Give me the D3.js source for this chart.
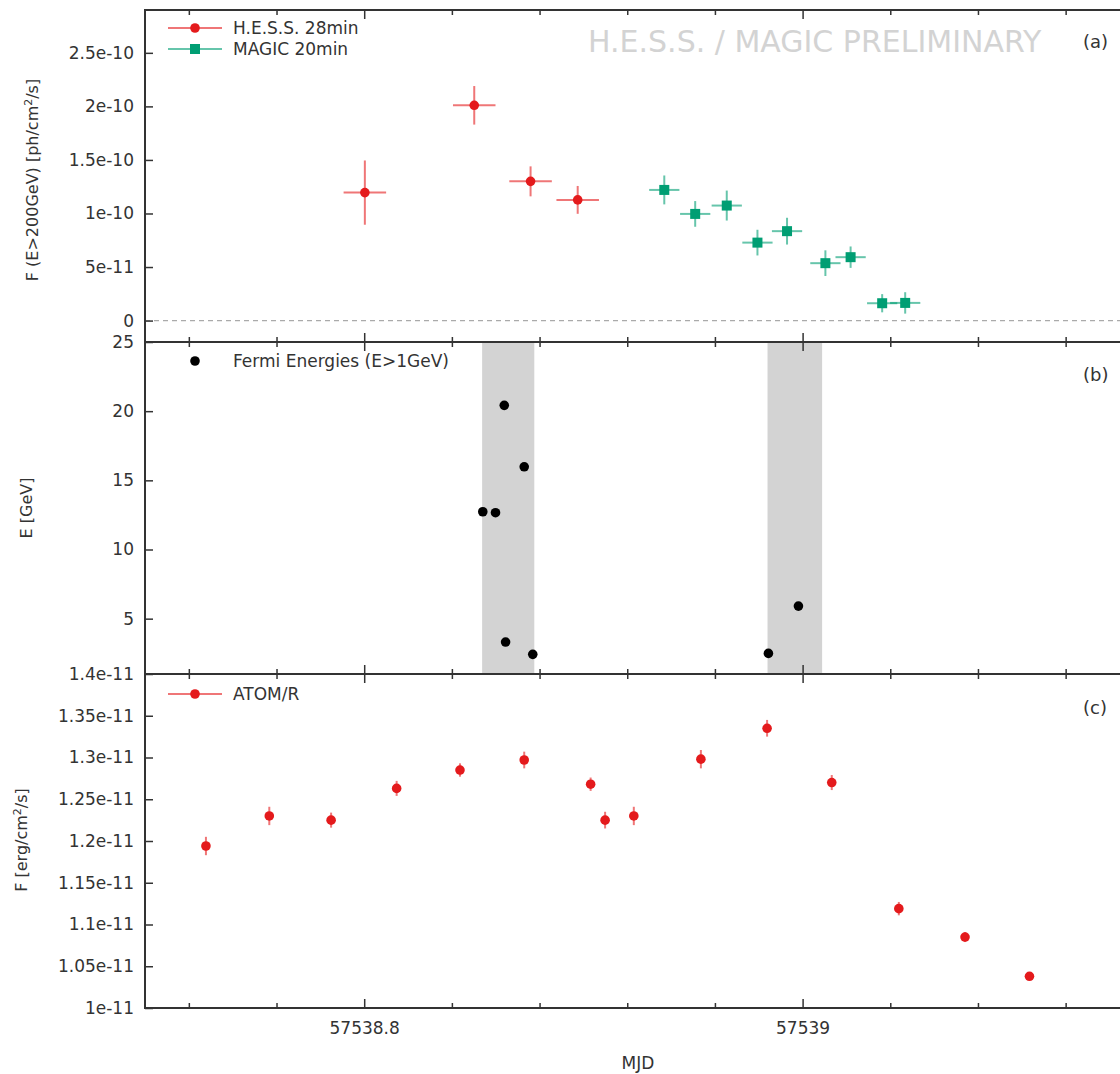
<!DOCTYPE html>
<html>
<head>
<meta charset="utf-8">
<script src="https://cdn.jsdelivr.net/npm/d3@7"></script>
<style>
  body { margin: 0; background: #fff; }
  text { font-family: "DejaVu Sans", sans-serif; fill: #333; }
</style>
</head>
<body>
<div id="chart"></div>
<script>
// H.E.S.S. 28 min bins
var hessMjd  = [57538.8003, 57538.8502, 57538.8759, 57538.8974];
var hessFlux = [1.195e-10, 2.01e-10, 1.30e-10, 1.127e-10];
var hessErr  = [0.30e-10, 0.18e-10, 0.14e-10, 0.13e-10];
var hessHalf = 0.0097;

// MAGIC 20 min bins
var magicMjd  = [57538.9369, 57538.9510, 57538.9654, 57538.9794, 57538.9929, 57539.0104, 57539.0219, 57539.0363, 57539.0468];
var magicFlux = [1.220e-10, 0.996e-10, 1.074e-10, 0.728e-10, 0.835e-10, 0.536e-10, 0.592e-10, 0.162e-10, 0.165e-10];
var magicErr  = [0.135e-10, 0.12e-10, 0.14e-10, 0.12e-10, 0.125e-10, 0.12e-10, 0.10e-10, 0.085e-10, 0.10e-10];
var magicHalf = 0.0069;

// Fermi photon energies
var fermiMjd    = [57538.8541, 57538.8599, 57538.8639, 57538.8730, 57538.8645, 57538.8769, 57538.9844, 57538.9981];
var fermiEnergy = [12.73, 12.66, 20.42, 15.98, 3.31, 2.42, 2.49, 5.91];
var fermiBands  = [[57538.8538, 57538.8776], [57538.9840, 57539.0089]];

// ATOM R band
var atomMjd  = [57538.7278, 57538.7567, 57538.7849, 57538.8148, 57538.8437, 57538.8730, 57538.9033, 57538.9099,
                57538.9230, 57538.9536, 57538.9838, 57539.0133, 57539.0439, 57539.0741, 57539.1035];
var atomFlux = [1.194e-11, 1.230e-11, 1.225e-11, 1.263e-11, 1.285e-11, 1.297e-11, 1.268e-11, 1.225e-11,
                1.230e-11, 1.298e-11, 1.335e-11, 1.270e-11, 1.119e-11, 1.085e-11, 1.038e-11];
var atomErr  = [0.011e-11, 0.011e-11, 0.009e-11, 0.009e-11, 0.008e-11, 0.010e-11, 0.008e-11, 0.010e-11,
                0.011e-11, 0.011e-11, 0.010e-11, 0.009e-11, 0.008e-11, 0.006e-11, 0.004e-11];

// ticks
var xMajor = [57538.8, 57539, 57539.2];
var xMajorLabels = ["57538.8", "57539", ""];
var xMinor = [57538.72, 57538.76, 57538.84, 57538.88, 57538.92, 57538.96, 57539.04, 57539.08, 57539.12, 57539.16];
var yTicksA = [0, 5e-11, 1e-10, 1.5e-10, 2e-10, 2.5e-10];
var yLabelsA = ["0", "5e-11", "1e-10", "1.5e-10", "2e-10", "2.5e-10"];
var yTicksB = [5, 10, 15, 20, 25];
var yLabelsB = ["5", "10", "15", "20", "25"];
var yTicksC = [1e-11, 1.05e-11, 1.1e-11, 1.15e-11, 1.2e-11, 1.25e-11, 1.3e-11, 1.35e-11, 1.4e-11];
var yLabelsC = ["1e-11", "1.05e-11", "1.1e-11", "1.15e-11", "1.2e-11", "1.25e-11", "1.3e-11", "1.35e-11", "1.4e-11"];

var width = 1120, height = 1074;
var left = 145, right = 1241;
var red = "#e41a1c", green = "#009e73", axisCol = "#333";

var svg = d3.select("#chart").append("svg")
    .attr("width", width)
    .attr("height", height);

var xScale = d3.scaleLinear().domain([57538.7, 57539.2]).range([left, right]);

var yA = d3.scaleLinear().domain([-2e-11, 2.9e-10]).range([342, 10]);
var yB = d3.scaleLinear().domain([1, 25]).range([674, 342]);
var yC = d3.scaleLinear().domain([1e-11, 1.4e-11]).range([1008, 674]);

function fmt(ticks, labels) {
    return function(d) { return labels[ticks.indexOf(d)]; };
}

// gray bands in panel b go under axes
svg.append("g").selectAll("rect").data(fermiBands).enter().append("rect")
    .attr("x", function(d) { return xScale(d[0]); })
    .attr("width", function(d) { return xScale(d[1]) - xScale(d[0]); })
    .attr("y", yB(25))
    .attr("height", yB(1) - yB(25))
    .attr("fill", "#d3d3d3");

// zero line in panel a
svg.append("line")
    .attr("x1", left).attr("x2", width)
    .attr("y1", yA(0)).attr("y2", yA(0))
    .attr("stroke", "#aaa").attr("stroke-width", 1.3)
    .attr("stroke-dasharray", "5,4");

function drawAxes(y, ticks, labels, showX) {
    var top = y.range()[1], bottom = y.range()[0];

    // x ticks top and bottom, pointing inward
    var g = svg.append("g").attr("transform", "translate(0," + bottom + ")")
        .call(d3.axisBottom(xScale).tickValues(xMajor).tickSizeInner(-9).tickSizeOuter(0).tickPadding(14)
            .tickFormat(showX ? fmt(xMajor, xMajorLabels) : ""));
    g.select(".domain").remove();
    g = svg.append("g").attr("transform", "translate(0," + bottom + ")")
        .call(d3.axisBottom(xScale).tickValues(xMinor).tickSizeInner(-5).tickSizeOuter(0).tickFormat(""));
    g.select(".domain").remove();
    g = svg.append("g").attr("transform", "translate(0," + top + ")")
        .call(d3.axisTop(xScale).tickValues(xMajor).tickSizeInner(-9).tickSizeOuter(0).tickFormat(""));
    g.select(".domain").remove();
    g = svg.append("g").attr("transform", "translate(0," + top + ")")
        .call(d3.axisTop(xScale).tickValues(xMinor).tickSizeInner(-5).tickSizeOuter(0).tickFormat(""));
    g.select(".domain").remove();

    g = svg.append("g").attr("transform", "translate(" + left + ",0)")
        .call(d3.axisLeft(y).tickValues(ticks).tickSizeInner(-8).tickSizeOuter(0).tickPadding(11)
            .tickFormat(fmt(ticks, labels)));
    g.select(".domain").remove();

    svg.selectAll(".tick line").attr("stroke", axisCol).attr("stroke-width", 1.5);
    svg.selectAll(".tick text").attr("font-size", 17).style("font-family", "DejaVu Sans").attr("fill", axisCol);

    // frame
    svg.append("line").attr("x1", left).attr("x2", width).attr("y1", top).attr("y2", top)
        .attr("stroke", axisCol).attr("stroke-width", 2);
    svg.append("line").attr("x1", left).attr("x2", width).attr("y1", bottom).attr("y2", bottom)
        .attr("stroke", axisCol).attr("stroke-width", 2);
    svg.append("line").attr("x1", left).attr("x2", left).attr("y1", top - 1).attr("y2", bottom + 1)
        .attr("stroke", axisCol).attr("stroke-width", 2);
}

drawAxes(yA, yTicksA, yLabelsA, false);
drawAxes(yB, yTicksB, yLabelsB, false);
drawAxes(yC, yTicksC, yLabelsC, true);

// error bars + markers
function errorPoints(mjd, flux, err, half, y, col, shape) {
    var g = svg.append("g");
    var idx = d3.range(mjd.length);
    g.selectAll(".ey").data(idx).enter().append("line")
        .attr("x1", function(i) { return xScale(mjd[i]); })
        .attr("x2", function(i) { return xScale(mjd[i]); })
        .attr("y1", function(i) { return y(flux[i] - err[i]); })
        .attr("y2", function(i) { return y(flux[i] + err[i]); })
        .attr("stroke", col).attr("stroke-opacity", 0.6).attr("stroke-width", 2);
    if (half > 0) {
        g.selectAll(".ex").data(idx).enter().append("line")
            .attr("x1", function(i) { return xScale(mjd[i] - half); })
            .attr("x2", function(i) { return xScale(mjd[i] + half); })
            .attr("y1", function(i) { return y(flux[i]); })
            .attr("y2", function(i) { return y(flux[i]); })
            .attr("stroke", col).attr("stroke-opacity", 0.6).attr("stroke-width", 2);
    }
    if (shape == "square") {
        g.selectAll(".m").data(idx).enter().append("rect")
            .attr("x", function(i) { return xScale(mjd[i]) - 5; })
            .attr("y", function(i) { return y(flux[i]) - 5; })
            .attr("width", 10).attr("height", 10)
            .attr("fill", col);
    } else {
        g.selectAll(".m").data(idx).enter().append("circle")
            .attr("cx", function(i) { return xScale(mjd[i]); })
            .attr("cy", function(i) { return y(flux[i]); })
            .attr("r", 4.8)
            .attr("fill", col);
    }
}

errorPoints(hessMjd, hessFlux, hessErr, hessHalf, yA, red, "circle");
errorPoints(magicMjd, magicFlux, magicErr, magicHalf, yA, green, "square");
errorPoints(atomMjd, atomFlux, atomErr, 0, yC, red, "circle");

svg.append("g").selectAll("circle").data(d3.range(fermiMjd.length)).enter().append("circle")
    .attr("cx", function(i) { return xScale(fermiMjd[i]); })
    .attr("cy", function(i) { return yB(fermiEnergy[i]); })
    .attr("r", 4.8)
    .attr("fill", "#000");

// legends
function legendEntry(y, col, shape, label, withLine) {
    if (withLine) {
        svg.append("line").attr("x1", 168).attr("x2", 222).attr("y1", y).attr("y2", y)
            .attr("stroke", col).attr("stroke-opacity", 0.6).attr("stroke-width", 2);
    }
    if (shape == "square") {
        svg.append("rect").attr("x", 190).attr("y", y - 5).attr("width", 10).attr("height", 10).attr("fill", col);
    } else {
        svg.append("circle").attr("cx", 195).attr("cy", y).attr("r", 4.8).attr("fill", col);
    }
    svg.append("text").attr("x", 233).attr("y", y + 6).attr("font-size", 17).text(label);
}
legendEntry(28, red, "circle", "H.E.S.S. 28min", true);
legendEntry(49, green, "square", "MAGIC 20min", true);
legendEntry(361, "#000", "circle", "Fermi Energies (E>1GeV)", false);
legendEntry(694, red, "circle", "ATOM/R", true);

// watermark and panel tags
svg.append("text").attr("x", 588).attr("y", 52).attr("font-size", 30)
    .style("fill", "#d3d3d3").text("H.E.S.S. / MAGIC PRELIMINARY");
svg.append("text").attr("x", 1083).attr("y", 48).attr("font-size", 18).text("(a)");
svg.append("text").attr("x", 1083).attr("y", 381).attr("font-size", 18).text("(b)");
svg.append("text").attr("x", 1083).attr("y", 714).attr("font-size", 18).text("(c)");

// axis titles
function yTitle(x, y, parts) {
    var t = svg.append("text").attr("transform", "translate(" + x + "," + y + ") rotate(-90)")
        .attr("text-anchor", "middle").attr("font-size", 16);
    parts.forEach(function(p) {
        var s = t.append("tspan").text(p[0]);
        if (p[1]) s.attr("font-size", 11).attr("dy", -6);
        if (p[2]) s.attr("dy", 6);
    });
}
yTitle(38, 180, [["F (E>200GeV) [ph/cm"], ["2", true], ["/s]", false, true]]);
yTitle(32, 508, [["E [GeV]"]]);
yTitle(27, 840, [["F [erg/cm"], ["2", true], ["/s]", false, true]]);

svg.append("text").attr("x", 638).attr("y", 1069).attr("text-anchor", "middle")
    .attr("font-size", 17).text("MJD");
</script>
</body>
</html>
